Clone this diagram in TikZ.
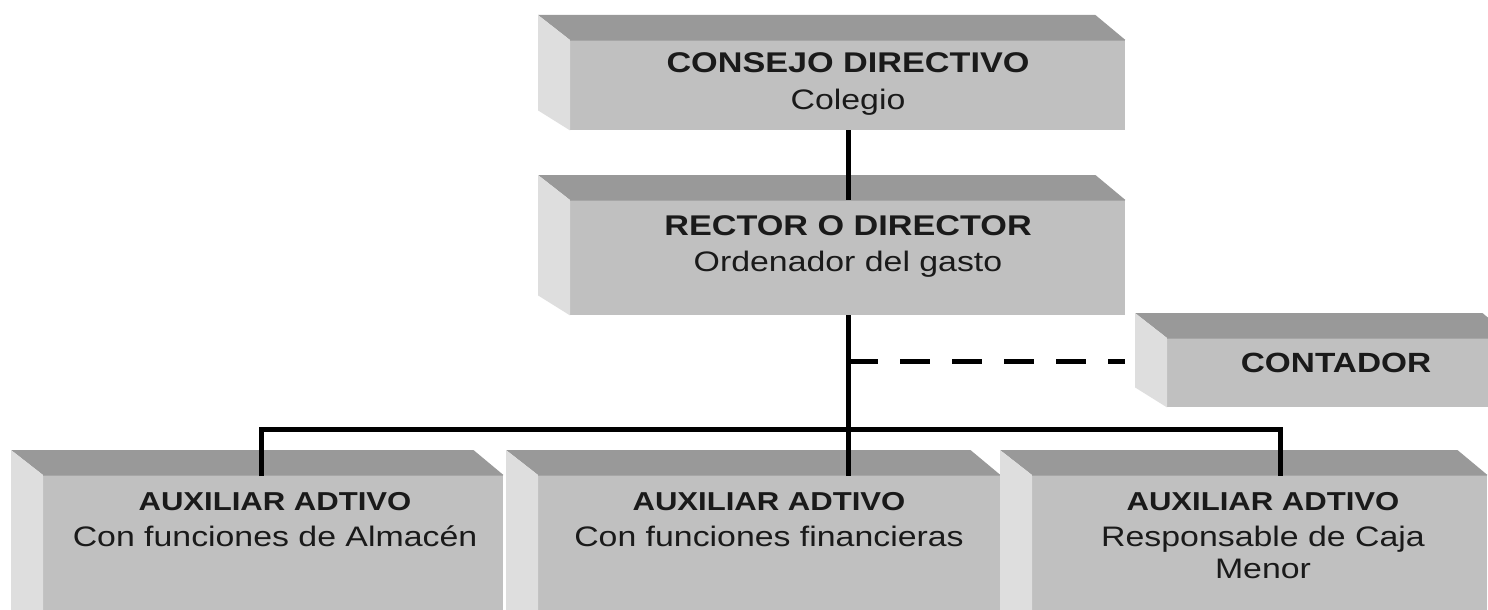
\documentclass[tikz,border=0pt]{standalone}
\usepackage{fontspec}
\setmainfont{Liberation Sans}
\newfontfamily\arialx[FakeStretch=1.2]{Liberation Sans}
\usetikzlibrary{calc}
\definecolor{frontc}{HTML}{C0C0C0}
\definecolor{topc}{HTML}{999999}
\definecolor{leftc}{HTML}{DEDEDE}
\definecolor{txtc}{HTML}{1A1A1A}
\tikzset{
  front/.style={rectangle, fill=frontc, draw=none, inner sep=0pt, anchor=north west},
  txtnode/.style={inner sep=0pt, anchor=base, text=txtc, font=\arialx\fontsize{28}{36}\selectfont},
  conn/.style={line width=5pt, black},
  dconn/.style={line width=5pt, black, dash pattern=on 30pt off 22pt},
}
\newcommand{\boxfaces}[1]{%
  \fill[topc] (#1.north west) -- ++(-32,-25) -- ($(#1.north east)+(-30,-25)$) -- (#1.north east) -- cycle;
  \fill[leftc] (#1.north west) -- ++(-32,-25) -- ($(#1.south west)+(-32,-20)$) -- (#1.south west) -- cycle;
  \draw[black!35, line width=1.2pt] ($(#1.north west)+(0,0.6)$) -- ($(#1.north east)+(0,0.6)$);
}
\newcommand{\tb}[1]{\fontsize{28.5}{36}\selectfont\bfseries #1}
\newcommand{\tr}[1]{\fontsize{28.2}{36}\selectfont #1}
\newcommand{\bb}[1]{\fontsize{25.9}{36}\selectfont\bfseries #1}
\begin{document}
\begin{tikzpicture}[x=1pt, y=-1pt]
\useasboundingbox (0,0) rectangle (1488,610);
\fill[white] (0,0) rectangle (1488,610);
\clip (0,0) rectangle (1488,610);

% boxes (front faces)
\node[front, minimum width=555pt, minimum height=90pt] (consejo) at (570,40) {};
\node[front, minimum width=555pt, minimum height=115pt] (rector) at (570,200) {};
\node[front, minimum width=345pt, minimum height=69pt] (contador) at (1167,338) {};
\node[front, minimum width=460pt, minimum height=175pt] (aux1) at (43,475) {};
\node[front, minimum width=462pt, minimum height=175pt] (aux2) at (538,475) {};
\node[front, minimum width=455pt, minimum height=175pt] (aux3) at (1032,475) {};
\boxfaces{consejo}
\boxfaces{rector}
\boxfaces{contador}
\boxfaces{aux1}
\boxfaces{aux2}
\boxfaces{aux3}

% texts
\node[txtnode] (consejoT) at (848,73) {\begin{tabular}[t]{@{}c@{}}\tb{CONSEJO DIRECTIVO}\\ \tr{Colegio}\end{tabular}};
\node[txtnode] (rectorT) at (848,235) {\begin{tabular}[t]{@{}c@{}}\tb{RECTOR O DIRECTOR}\\ \tr{Ordenador del gasto}\end{tabular}};
\node[txtnode] (contadorT) at (1336,372) {\fontsize{27.8}{36}\selectfont\bfseries CONTADOR};
\node[txtnode] (aux1T) at (275,510) {\begin{tabular}[t]{@{}c@{}}\bb{AUXILIAR ADTIVO}\\ \tr{Con funciones de Almacén}\end{tabular}};
\node[txtnode] (aux2T) at (769,510) {\begin{tabular}[t]{@{}c@{}}\bb{AUXILIAR ADTIVO}\\ \tr{Con funciones financieras}\end{tabular}};
\node[txtnode] (aux3T) at (1263,510) {\begin{tabular}[t]{@{}c@{}}\bb{AUXILIAR ADTIVO}\\ \tr{Responsable de Caja}\\[-4pt] \tr{Menor}\end{tabular}};

% connectors
\coordinate (jc) at (848,429);
\coordinate (jd) at (848,361);
\coordinate (jl) at (261,429);
\coordinate (jr) at (1280,429);
\coordinate (d1) at (261,476);
\coordinate (d2) at (848,476);
\coordinate (d3) at (1280,476);
\draw[conn] (consejo.south -| jc) -- (rector.north -| jc);
\draw[conn] (rector.south -| jc) -- (d2);
\draw[conn] (d1) -- (jl) -- (jr) -- (d3);
\draw[dconn] (jd) -- (1125,361);
\end{tikzpicture}
\end{document}
